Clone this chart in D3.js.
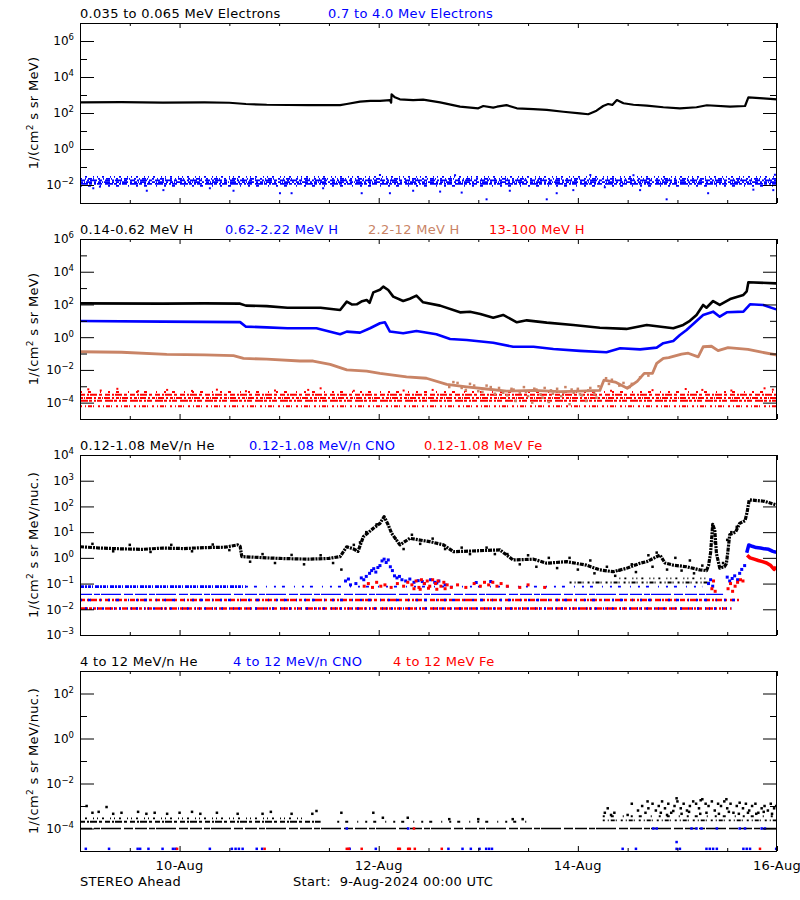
<!DOCTYPE html>
<html><head><meta charset="utf-8">
<script src="https://cdn.jsdelivr.net/npm/d3@7"></script>
<style>
body{margin:0;background:#fff;}
svg{display:block;font-family:"DejaVu Sans",sans-serif;}
</style></head><body>
<svg id="c" width="800" height="900"></svg>
<script>
// ---------------- DATA (hours since 9-Aug-2024 00:00 UTC, flux) ----------------
const dayTicks = [24, 72, 120, 168];
const dayLabels = ["10-Aug", "12-Aug", "14-Aug", "16-Aug"];
const halfDayTicks = [12, 36, 48, 60, 84, 96, 108, 132, 144, 156];

// Panel 1: electrons
const elecLow = [[0,389],[10,398],[20,380],[30,389],[36,372],[40,316],[45,288],[55,275],[62.7,275],[64.3,316],[67.5,427],[70,468],[72.3,468],[74.7,525],[75.0,372],[75.1,1100],[75.9,741],[77.1,575],[80.3,525],[82.7,550],[86.8,389],[91.6,224],[96.0,182],[97.2,245],[99.6,200],[100.5,224],[102.8,275],[105.3,182],[109.3,166],[112.5,148],[116.5,117],[120.5,95],[122.5,85],[124.5,135],[126.1,245],[127.3,316],[128.3,282],[129.4,525],[131.0,347],[133.4,288],[136.6,257],[140.6,209],[144.6,182],[148.6,209],[151.1,269],[156.7,224],[160.3,245],[161.1,741],[164.7,646],[168,575]];
const elecHighRows = [[0.028,0,168],[0.022,0,168],[0.018,0,168],[0.0145,0,168],[0.0115,0,168],[0.009,0,168]];
const elecHighOutliers = [[3.2,0.0066],[4.8,0.0081],[16.1,0.0048],[20.1,0.0052],[31.3,0.0066],[37,0.0048],[48.2,0.0035],[51,0.0035],[58.6,0.0066],[67.9,0.0035],[74.7,0.0035],[80.3,0.0048],[86.8,0.0043],[92,0.0038],[98,0.0016],[103.6,0.0048],[112.5,0.0016],[114.9,0.0035],[118.9,0.0052],[126.5,0.0075],[135,0.0052],[141.4,0.0016],[151.4,0.0035],[162.3,0.0055],[167.1,0.0052],[72.3,0.036],[90.4,0.035],[123,0.036],[133.4,0.035],[167.5,0.037]];

// Panel 2: protons
const protA = [[0,117],[20,112],[30,117],[38.6,112],[40,85],[45,79],[50,63],[58,63],[62.7,46],[64.3,148],[65.5,100],[66.7,102],[68,158],[69.1,186],[69.8,126],[70.7,550],[72.3,794],[73.1,1230],[74.3,759],[75.5,302],[77.9,162],[79.5,224],[81.1,347],[82.7,135],[86.8,85],[91.6,33],[94,35.5],[96.5,26.3],[99.6,15.5],[102,22.9],[105.3,8.1],[107.7,10.7],[112.5,7.8],[118.9,5.6],[125.3,3.8],[131.7,3.2],[136.6,5.6],[143,3.5],[145.4,5.6],[147,10],[148.6,22.9],[150.2,93],[151,63],[152.6,162],[154.2,93],[156.7,214],[159.9,380],[160.7,631],[161.1,2290],[167.8,1950]];
const protB = [[0,9.8],[20,8.9],[38.6,8.3],[40,4.4],[45,4.0],[50,3.5],[57,3.5],[62.7,1.5],[64.3,2.2],[67.5,1.9],[69.9,3.5],[72.3,7.1],[73.5,8.1],[74.7,2.2],[77.9,1.74],[81.1,2.4],[85.9,1.5],[89.2,0.78],[93.2,0.68],[99.6,0.46],[104.4,0.26],[109.3,0.26],[114.1,0.19],[120.5,0.145],[126.9,0.12],[130.2,0.21],[135,0.18],[139,0.23],[140.6,0.43],[143,0.59],[144.6,1.35],[146.2,2.75],[148.6,9.8],[150.2,22.9],[152.6,36.3],[154.2,17.8],[155.9,33.1],[159.9,36.3],[161.5,102],[164.7,93],[167.8,50]];
const protC = [[0,0.129],[10,0.12],[20.9,0.089],[30,0.083],[37,0.074],[39.4,0.051],[45,0.045],[53,0.035],[56.2,0.035],[60.3,0.022],[64.3,0.010],[69.1,0.0085],[72.3,0.0062],[78.7,0.0038],[83.5,0.0031],[88.4,0.0013],[93.2,0.00093],[98,0.00068],[102.8,0.0005],[109.3,0.00056],[115.7,0.00047],[120.5,0.0005],[125.3,0.00056],[126.3,0.0024],[129,0.0018],[131.9,0.00076],[134.3,0.002],[136,0.0062],[138,0.0062],[139,0.025],[140.6,0.051],[141.9,0.056],[145,0.093],[146.6,0.105],[149,0.063],[150.2,0.26],[152.2,0.28],[153.8,0.15],[156.2,0.23],[161,0.18],[164,0.126],[168,0.081]];
const protCScatter = [[89,0.0009],[90,0.0018],[91,0.0016],[92,0.00079],[93,0.0006],[94,0.0014],[95,0.0011],[96,0.0005],[97,0.00045],[98,0.0011],[99,0.00089],[100,0.00035],[101,0.00079],[102,0.0004],[103,0.00028],[104,0.0007],[104.5,0.00063],[105,0.000126],[106,0.0004],[107,0.00089],[107.5,0.00045],[108,0.00025],[109,0.0001],[109.5,0.00071],[110,0.00063],[111,0.00032],[111.5,0.0002],[112,0.00079],[113,0.00011],[113.5,0.00056],[114,0.00035],[115,0.0007],[116,0.00025],[116.5,0.0004],[117,0.00089],[118,0.00008],[118.5,0.00063],[119,0.0004],[120,0.0007],[120.5,0.00032],[121,0.00028],[122,0.000126],[122.5,0.00056],[123,0.00079],[124,0.00035],[124.5,0.0002],[125,0.001],[126.8,0.0031],[127.5,0.0014],[128.2,0.0025],[130,0.0011],[131,0.0016],[132.5,0.0009],[133,0.0014],[135,0.0035],[137,0.0045]];
const protDRows = [[4.5e-4,0,168],[3.0e-4,0,168],[1.9e-4,0,168],[1.3e-4,0,168],[6.0e-5,0,168]];
const protDOutliers = [[2,6.5e-4],[5,5.5e-4],[9,7e-4],[14,5e-4],[21,6e-4],[27,5.2e-4],[33,6.2e-4],[40,5e-4],[47,5.5e-4],[55,6e-4],[58,7.5e-4],[66,5.3e-4],[78,5.5e-4],[85,6e-4],[93,5.2e-4],[99,6.5e-4],[104,5.5e-4],[113,5e-4],[120,6e-4],[128,5.3e-4],[138,5.8e-4],[146,6.8e-4],[150,6e-4],[157,5.5e-4],[165,7.5e-4],[167,6.2e-4]];

// Panel 3: 0.12-1.08 MeV/n ions
const heLow = [[0,2.7],[5,2.4],[10,2.24],[15,2.14],[20,2.4],[25,2.3],[30,2.5],[35,2.6],[38,3.2],[38.6,2.8],[39,1.12],[45,1.0],[48,0.95],[55,0.89],[60,0.95],[62.7,1.12],[64.3,2.7],[65.9,2.24],[67,1.78],[68.3,6.6],[70.7,14.1],[72.3,21.9],[73.3,39.8],[74.3,19.1],[75.1,9.1],[77.1,3.2],[79.5,5.75],[84.3,4.27],[87.6,3.2],[90,1.74],[96.4,1.9],[101.2,2.04],[104.4,0.83],[109.3,0.89],[112.5,0.62],[117.3,0.71],[122.1,0.52],[125.3,0.34],[128.5,0.29],[131.7,0.39],[135,0.62],[136.6,0.71],[139.8,1.29],[141,0.63],[143,0.52],[146.2,0.45],[149.4,0.34],[151,0.32],[151.5,0.5],[152,1.6],[152.5,20],[153,12],[153.4,1.5],[154.2,0.4],[155.3,0.45],[155.8,0.6],[156.2,2.0],[156.6,8],[158,10],[159,22],[160.3,28],[160.8,60],[161.3,180],[165,158],[167.8,115]];
const heScatter = [[3,3.5],[8,1.8],[12,3.2],[17,1.7],[22,3.2],[27,1.8],[32,3.3],[36,2.0],[41,0.71],[44,1.4],[47,0.63],[51,1.3],[54,0.56],[58,1.26],[61,0.63],[63,0.35],[66,3.2],[67.5,4.0],[69,10],[71.5,20],[76,5.6],[78,2.2],[80,7.9],[82,3.5],[85,5.6],[88,2.2],[92,2.5],[94,1.4],[98,2.5],[100,1.4],[103,1.4],[106,0.56],[108,1.26],[110,0.45],[113,1.0],[115,0.4],[118,1.0],[120,0.35],[123,0.79],[124,0.25],[127,0.45],[129,0.2],[130,0.32],[133,0.56],[134,0.28],[137,1.26],[138,0.45],[139,1.6],[141.5,0.35],[143.5,1.0],[145,0.32],[147,0.79],[148,0.25],[150,0.5],[152.5,16],[153,4.0],[155,0.63],[156,5.0],[157,10],[158.3,16]];
const heRows = [[0.16,130,151],[0.11,118,152]];
const cnoRows = [[0.076,0,40],[0.076,40,150],[0.038,0,155]];
const mixedRows = [[0.023,0,159],[0.0108,0,157]];
const cnoEvent = [[64,0.126],[64.7,0.15],[65.2,0.089],[66.5,0.1],[67.8,0.166],[68.4,0.141],[69,0.19],[69.8,0.25],[70.3,0.32],[70.8,0.38],[71.3,0.28],[71.8,0.42],[72.3,0.5],[72.8,0.76],[73.3,0.89],[73.8,0.66],[74.3,0.83],[74.8,0.45],[75.3,0.32],[75.8,0.2],[76.4,0.166],[77,0.19],[77.6,0.141],[78.5,0.126],[79.5,0.15],[80.5,0.112],[81.5,0.13],[82.5,0.12],[83,0.1],[84.5,0.141],[85.5,0.112],[86,0.105],[86.5,0.126],[88,0.089],[95.5,0.11],[99,0.12],[151.5,0.1],[152,0.141],[152.5,0.079],[156,0.178],[156.6,0.126],[157.2,0.158],[157.8,0.2],[158.5,0.141],[159,0.25],[159.5,0.355],[160.2,0.5]];
const cnoTail = [[160.7,1.58],[161.2,3.16],[162,2.82],[163,2.51],[164,2.4],[165,2.24],[166,2.14],[167,1.78],[167.8,1.66]];
const feEvent = [[68.5,0.079],[69.5,0.1],[70.5,0.071],[71.5,0.112],[72.5,0.079],[73.5,0.089],[75,0.071],[76.5,0.1],[78,0.079],[79,0.112],[80,0.089],[80.5,0.063],[81,0.126],[81.7,0.071],[82,0.06],[82.3,0.141],[83,0.1],[83.7,0.126],[84,0.066],[84.3,0.079],[85,0.141],[85.7,0.1],[86,0.06],[86.3,0.126],[87,0.079],[87.7,0.112],[88,0.063],[88.5,0.089],[89.5,0.071],[91,0.089],[93,0.071],[95,0.1],[96.5,0.079],[97.5,0.112],[98.5,0.089],[99.5,0.112],[100.5,0.079],[101.5,0.1],[103,0.079],[106,0.071],[108,0.089],[112,0.071],[152.3,0.063],[152.7,0.126],[153.1,0.05],[156.2,0.063],[156.8,0.1],[157.3,0.05],[157.9,0.079],[158.5,0.112],[159.2,0.141],[159.8,0.126]];
const feTail = [[160.8,1.26],[161.5,1.0],[162.5,0.89],[163.5,0.79],[164.5,0.71],[165.5,0.63],[166.5,0.5],[167.3,0.355],[167.8,0.447]];

// Panel 4: 4-12 MeV/n ions
const he4Rows = [[1e-4,0,168],[2.0e-4,0,58],[2.0e-4,62,108],[2.3e-4,126,168],[2.8e-4,0,54],[3.5e-4,126,168]];
const he4Scatter = [[1.6,1e-3],[6.4,9e-4],[3,5e-4],[4.5,5.5e-4],[8,4.5e-4],[10,5e-4],[14,5.5e-4],[16,4.5e-4],[18,5e-4],[21,4.5e-4],[24,5e-4],[27,5.5e-4],[29,4.5e-4],[33,5e-4],[38,4.5e-4],[44,4.5e-4],[46,5.5e-4],[51,4.5e-4],[56,4.5e-4],[57,6e-4],[63,5e-4],[70.7,5e-4],[73,3e-4],[79,3e-4],[89,2.6e-4],[96,2.6e-4],[104.3,2.6e-4],[106.7,2.6e-4],
 [126.5,5e-4],[127.2,7.9e-4],[128,4e-4],[128.8,5e-4],[132,4e-4],[133,1.26e-3],[134.5,6.3e-4],[135.5,1e-3],[136.3,5e-4],[136.8,1.6e-3],[137,7.9e-4],[138,1.26e-3],[138.8,6.3e-4],[139.5,1e-3],[140,5e-4],[140.3,1.6e-3],[141,7.9e-4],[141.5,4e-4],[141.8,1.26e-3],[142.5,5e-4],[143,6e-4],[143.3,1e-3],[143.8,2.2e-3],[144,1.6e-3],[144.8,7.9e-4],[145,4.5e-4],[145.5,1.26e-3],[146.3,6.3e-4],[146.8,5.5e-4],[147,1e-3],[147.8,1.6e-3],[148.5,1.26e-3],[149.2,7.9e-4],[149.5,4.5e-4],[149.6,1.8e-3],[150,2e-3],[150.8,1.26e-3],[151,5e-4],[151.5,1e-3],[152.3,1.6e-3],[153,6.3e-4],[153.8,1.26e-3],[154,4.5e-4],[154.5,1e-3],[155.3,1.6e-3],[155.8,2e-3],[156,7.9e-4],[156.4,5.5e-4],[156.8,1.26e-3],[157.5,5e-4],[158.3,1e-3],[158.8,4.5e-4],[159,1.4e-3],[159.8,7.9e-4],[160.5,1.26e-3],[161,5e-4],[161.3,6.3e-4],[162,1e-3],[162.8,1.26e-3],[163,4.5e-4],[163.5,5e-4],[164.3,7.9e-4],[164.8,5.5e-4],[165,1e-3],[165.8,6.3e-4],[166.5,1.26e-3],[166.8,4.5e-4],[167.3,7.9e-4],[167.8,1e-3]];
const cno4 = [[1.4,1.25e-5],[7,1.25e-5],[13.9,1.25e-5],[14.5,1.25e-5],[16.5,1.25e-5],[19.9,1.25e-5],[22.4,1.25e-5],[23,1.25e-5],[31.3,1.25e-5],[36.6,1.25e-5],[37.5,1.25e-5],[38.3,1.25e-5],[39.2,1.25e-5],[42.6,1.25e-5],[43.9,1.25e-5],[65,1.25e-5],[71.3,1.25e-5],[88.8,1.25e-5],[92.2,1.25e-5],[94.2,1.25e-5],[96.3,1.25e-5],[97.9,1.25e-5],[98.6,1.25e-5],[99.3,1.25e-5],[130.8,1.25e-5],[134,1.25e-5],[143.8,1.25e-5],[143.8,2.5e-5],[144.6,1.25e-5],[151,1.25e-5],[151.8,1.25e-5],[152.6,1.25e-5],[153.5,1.25e-5],[159.9,1.25e-5],[160.7,1.25e-5],[161.5,1.25e-5],[167.8,1.25e-5],
 [64.3,1e-4],[79.1,1e-4],[138.2,1e-4],[139,1e-4],[147.4,1e-4],[148.6,1e-4],[149.8,1e-4],[153.5,1e-4],[159,1e-4],[160.3,1e-4],[164.3,1e-4],[165.1,1e-4]];
const fe4 = [[23.4,1.25e-5],[44.5,1.25e-5],[64.3,1.25e-5],[64.8,1.25e-5],[67.9,1.25e-5],[76.7,1.25e-5],[77.1,1.25e-5],[79.1,1.25e-5],[79.5,1.25e-5],[80.7,1.25e-5],[87.2,1.25e-5],[163.9,1.25e-5],[80.5,1e-4]];

// ---------------- DRAWING ----------------
const BLUE = "#0000ff", RED = "#ff0000", BROWN = "#c98466", BLACK = "#000000";
const svg = d3.select("#c");
const x = d3.scaleLinear().domain([0, 168]).range([80, 777]);
const DASH = ["5 2 2 1 7 2 3 3", "2 3 1 2 4 1 1 4", "8 1 3 2 2 1 5 3", "1 4 2 6 1 3", "3 1 1 1 6 2 2 2", "2 6 3 9 1 7", "12 2 6 1 20 3 9 2", "4 1 2 1 3 1 1 2"];

function makePanel(i, top, bottom, lo, hi) {
  const y = d3.scaleLog().domain([Math.pow(10, lo), Math.pow(10, hi)]).range([bottom, top]);
  const g = svg.append("g");
  svg.append("clipPath").attr("id", "clip" + i).append("rect")
    .attr("x", 80).attr("y", top).attr("width", 697).attr("height", bottom - top);
  const data = g.append("g").attr("clip-path", `url(#clip${i})`);
  return { g, data, y, top, bottom };
}
function drawLine(p, pts, color, w, dash) {
  p.data.append("path").datum(pts).attr("fill", "none").attr("stroke", color)
    .attr("stroke-width", w).attr("stroke-linejoin", "round")
    .attr("stroke-dasharray", dash || null)
    .attr("d", d3.line().x(d => x(d[0])).y(d => p.y(d[1])));
}
function drawDots(p, pts, color, s) {
  p.data.append("g").selectAll("rect").data(pts).join("rect")
    .attr("x", d => x(d[0]) - s / 2).attr("y", d => p.y(d[1]) - s / 2)
    .attr("width", s).attr("height", s).attr("fill", color);
}
function drawRows(p, rows, color, dashIdx, widths) {
  p.data.append("g").selectAll("line").data(rows).join("line")
    .attr("x1", d => x(d[1])).attr("x2", d => x(d[2]))
    .attr("y1", d => p.y(d[0])).attr("y2", d => p.y(d[0]))
    .attr("stroke", color).attr("stroke-width", (d, i) => widths[i % widths.length])
    .attr("stroke-dasharray", (d, i) => DASH[dashIdx[i % dashIdx.length]]);
}
const clean = s => s.select(".domain").remove();
function frame(p, majors, minors, yTitle, titles, xLabels) {
  const { g, y, top, bottom } = p;
  const M = majors.map(e => Math.pow(10, e)), m = minors.map(e => Math.pow(10, e));
  g.append("g").attr("transform", "translate(80,0)").call(d3.axisLeft(y).tickValues(M).tickSize(-14).tickFormat(() => "")).call(clean);
  g.append("g").attr("transform", "translate(80,0)").call(d3.axisLeft(y).tickValues(m).tickSize(-7).tickFormat(() => "")).call(clean);
  g.append("g").attr("transform", "translate(777,0)").call(d3.axisRight(y).tickValues(M).tickSize(-14).tickFormat(() => "")).call(clean);
  g.append("g").attr("transform", "translate(777,0)").call(d3.axisRight(y).tickValues(m).tickSize(-7).tickFormat(() => "")).call(clean);
  g.append("g").attr("transform", `translate(0,${bottom})`).call(d3.axisBottom(x).tickValues(dayTicks).tickSize(-5).tickFormat(() => "")).call(clean);
  g.append("g").attr("transform", `translate(0,${bottom})`).call(d3.axisBottom(x).tickValues(halfDayTicks).tickSize(-3).tickFormat(() => "")).call(clean);
  g.append("g").attr("transform", `translate(0,${top})`).call(d3.axisTop(x).tickValues(dayTicks).tickSize(-5).tickFormat(() => "")).call(clean);
  g.append("g").attr("transform", `translate(0,${top})`).call(d3.axisTop(x).tickValues(halfDayTicks).tickSize(-3).tickFormat(() => "")).call(clean);
  g.append("rect").attr("x", 80.5).attr("y", top + 0.5).attr("width", 696).attr("height", bottom - top)
    .attr("fill", "none").attr("stroke", "#000").attr("stroke-width", 1);
  g.append("g").selectAll("text").data(majors).join("text")
    .attr("x", 74).attr("y", e => y(Math.pow(10, e))).attr("dy", "0.36em")
    .attr("text-anchor", "end").attr("font-size", 12)
    .each(function (e) {
      const t = d3.select(this);
      t.append("tspan").text("10");
      t.append("tspan").attr("dy", -5).attr("font-size", 8.5).text(String(e).replace("-", "\u2212"));
    });
  const yt = g.append("text").attr("transform", `translate(38,${(top + bottom) / 2}) rotate(-90)`)
    .attr("text-anchor", "middle").attr("font-size", 13).attr("letter-spacing", 0.3);
  yt.append("tspan").text("1/(cm");
  yt.append("tspan").attr("dy", -5).attr("font-size", 9).text("2");
  yt.append("tspan").attr("dy", 5).text(yTitle);
  g.append("g").selectAll("text").data(titles).join("text")
    .attr("x", d => d[1]).attr("y", top - 5).attr("fill", d => d[2])
    .attr("font-size", 13).attr("letter-spacing", 0.3).text(d => d[0]);
  if (xLabels) {
    g.append("g").selectAll("text").data(dayTicks).join("text")
      .attr("x", d => x(d)).attr("y", bottom + 19).attr("text-anchor", "middle")
      .attr("font-size", 13).attr("letter-spacing", 0.3).text((d, i) => dayLabels[i]);
  }
}

// Panel 1
const p1 = makePanel(1, 23, 203, -3, 7);
drawRows(p1, elecHighRows, BLUE, [3, 1, 0, 4, 2, 5], [1.8]);
drawDots(p1, elecHighOutliers, BLUE, 2);
drawLine(p1, elecLow, BLACK, 2.2);
frame(p1, [-2, 0, 2, 4, 6], [-1, 1, 3, 5], " s sr MeV)",
  [["0.035 to 0.065 MeV Electrons", 80, BLACK], ["0.7 to 4.0 Mev Electrons", 328, BLUE]], false);

// Panel 2
const p2 = makePanel(2, 239, 419, -5, 6);
drawRows(p2, protDRows, RED, [5, 0, 4, 2, 1], [2]);
drawDots(p2, protDOutliers, RED, 2);
drawDots(p2, protCScatter, BROWN, 2.5);
drawLine(p2, protC, BROWN, 2.8);
drawLine(p2, protB, BLUE, 2.6);
drawLine(p2, protA, BLACK, 2.6);
frame(p2, [-4, -2, 0, 2, 4, 6], [-3, -1, 1, 3, 5], " s sr MeV)",
  [["0.14-0.62 MeV H", 80, BLACK], ["0.62-2.22 MeV H", 225, BLUE], ["2.2-12 MeV H", 368, BROWN], ["13-100 MeV H", 489, RED]], false);

// Panel 3
const p3 = makePanel(3, 455, 635, -3, 4);
drawRows(p3, mixedRows, RED, [0, 2], [2.4]);
drawRows(p3, mixedRows, BLUE, [5, 3], [2.4]);
drawRows(p3, cnoRows, BLUE, [7, 5, 6], [2.6, 1.8, 1.4]);
drawRows(p3, heRows, BLACK, [3, 1], [1.8]);
drawLine(p3, heLow, BLACK, 3.2, "4 1 2 1");
drawDots(p3, heScatter, BLACK, 2.5);
drawDots(p3, cnoEvent, BLUE, 3);
drawLine(p3, cnoTail, BLUE, 3.5);
drawDots(p3, feEvent, RED, 3);
drawLine(p3, feTail, RED, 3.5);
frame(p3, [-3, -2, -1, 0, 1, 2, 3, 4], [], " s sr MeV/nuc.)",
  [["0.12-1.08 MeV/n He", 80, BLACK], ["0.12-1.08 MeV/n CNO", 249, BLUE], ["0.12-1.08 MeV Fe", 424, RED]], false);

// Panel 4
const p4 = makePanel(4, 671, 851, -5, 3);
drawRows(p4, he4Rows, BLACK, [6, 0, 5, 1, 3, 5], [1.3, 2, 1.8, 1.8, 1.8, 1.8]);
drawDots(p4, he4Scatter, BLACK, 2.5);
drawDots(p4, cno4, BLUE, 2.5);
drawDots(p4, fe4, RED, 2.5);
frame(p4, [-4, -2, 0, 2], [-3, -1, 1], " s sr MeV/nuc.)",
  [["4 to 12 MeV/n He", 80, BLACK], ["4 to 12 MeV/n CNO", 233, BLUE], ["4 to 12 MeV Fe", 393, RED]], true);

// footer
svg.append("text").attr("x", 80).attr("y", 886).attr("font-size", 13).attr("letter-spacing", 0.3).text("STEREO Ahead");
svg.append("text").attr("x", 293).attr("y", 886).attr("font-size", 13).attr("letter-spacing", 0.3)
  .style("white-space", "pre").text("Start:  9-Aug-2024 00:00 UTC");
</script></body></html>
